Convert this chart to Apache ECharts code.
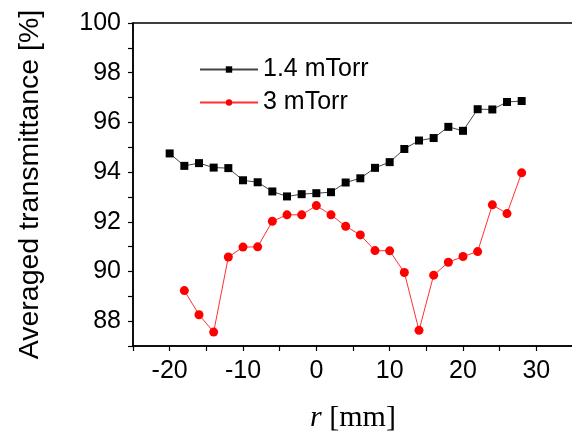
<!DOCTYPE html>
<html>
<head>
<meta charset="utf-8">
<script src="https://cdn.jsdelivr.net/npm/echarts@6/dist/echarts.min.js"></script>
<style>html,body{margin:0;padding:0;background:#fff}#c{width:572px;height:433px}</style>
</head>
<body>
<div id="c"></div>
<script>
const r = [-20,-18,-16,-14,-12,-10,-8,-6,-4,-2,0,2,4,6,8,10,12,14,16,18,20,22,24,26,28];
const t14 = [94.75,94.25,94.36,94.18,94.16,93.67,93.59,93.22,93.02,93.11,93.15,93.19,93.58,93.75,94.17,94.40,94.93,95.27,95.37,95.82,95.66,96.53,96.52,96.82,96.86];
const rRed = [-18,-16,-14,-12,-10,-8,-6,-4,-2,0,2,4,6,8,10,12,14,16,18,20,22,24,26,28];
const t3 = [89.23,88.26,87.56,90.58,90.98,90.99,92.02,92.28,92.28,92.65,92.28,91.82,91.47,90.84,90.83,89.96,87.63,89.85,90.37,90.60,90.80,92.68,92.33,93.97];
const seriesNames = ['1.4 mTorr','3 mTorr'];

const font = '"Liberation Sans", Arial, sans-serif';
const serif = '"Liberation Serif", "Times New Roman", serif';
const chart = echarts.init(document.getElementById('c'));
chart.setOption({
  animation: false,
  backgroundColor: '#fff',
  grid: { left: 133, top: 23, width: 440, height: 323, show: true, borderColor: '#000', borderWidth: 1.5,
    containLabel: false, outerBoundsMode: 'none' },
  legend: {
    orient: 'vertical', left: 194, top: 52, itemWidth: 58, itemHeight: 8, itemGap: 8,
    textStyle: { fontFamily: font, fontSize: 25, color: '#000' },
    data: seriesNames
  },
  xAxis: {
    type: 'value', min: -25, max: 35, interval: 5,
    axisLine: { onZero: false, lineStyle: { color: '#000', width: 1.5 } },
    axisTick: { length: 5, lineStyle: { color: '#000', width: 1.2 } },
    splitLine: { show: false },
    axisLabel: { margin: 13, fontFamily: font, fontSize: 25, color: '#000',
      formatter: v => (v % 10 === 0 ? String(v) : '') },
    name: '{i|r} [mm]', nameLocation: 'middle', nameGap: 57,
    nameTextStyle: { fontFamily: serif, fontSize: 30, color: '#000',
      rich: { i: { fontStyle: 'italic', fontFamily: serif, fontSize: 30 } } }
  },
  yAxis: {
    type: 'value', min: 87, max: 100, interval: 1,
    axisLine: { onZero: false, lineStyle: { color: '#000', width: 1.5 } },
    axisTick: { length: 5, lineStyle: { color: '#000', width: 1.2 } },
    splitLine: { show: false },
    axisLabel: { margin: 12, fontFamily: font, fontSize: 25, color: '#000',
      formatter: v => (v % 2 === 0 ? String(v) : '') },
    name: 'Averaged transmittance [%]', nameLocation: 'middle', nameGap: 88,
    nameTextStyle: { fontFamily: font, fontSize: 28.5, color: '#000' }
  },
  series: [
    { name: seriesNames[0], type: 'line', data: r.map((x, i) => [x, t14[i]]),
      symbol: 'rect', symbolSize: 8, itemStyle: { color: '#000' },
      lineStyle: { color: '#444', width: 1 } },
    { name: seriesNames[1], type: 'line', data: rRed.map((x, i) => [x, t3[i]]),
      symbol: 'circle', symbolSize: 9, itemStyle: { color: '#ff0000' },
      lineStyle: { color: '#ff3030', width: 1 } }
  ]
});
</script>
</body>
</html>
